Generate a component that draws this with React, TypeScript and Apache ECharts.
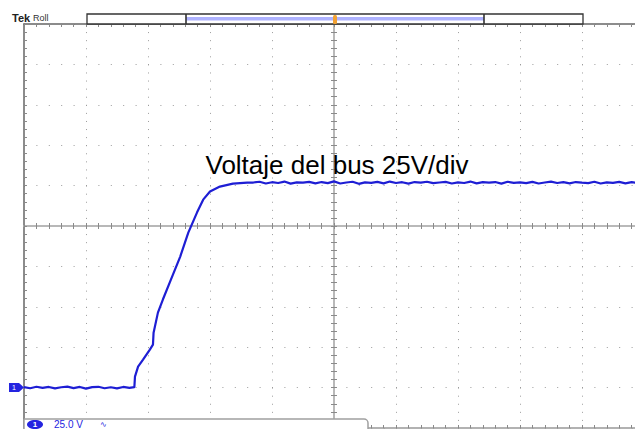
import React, { useEffect, useRef } from "react";
import * as echarts from "echarts";

// Horizontal position in graticule divisions (roll mode, 10 div across)
const baseTime = [0, 0.1, 0.2, 0.3, 0.4, 0.5, 0.6, 0.7, 0.8, 0.9, 1.0, 1.1, 1.2, 1.3, 1.4, 1.5, 1.6, 1.7, 1.78];
const baseVolt = [0.3, -0.4, 0.5, -0.2, 0.4, -0.5, 0.2, 0.6, -0.3, 0.4, -0.6, 0.3, 0.5, -0.4, 0.2, -0.5, 0.4, -0.2, 0.3];

const riseTime = [1.79, 1.84, 1.92, 2.03, 2.08, 2.09, 2.16, 2.24, 2.35, 2.52, 2.65, 2.79, 2.89, 3.0, 3.16, 3.37, 3.6];
const riseVolt = [6.8, 13.0, 17.3, 23.5, 26.6, 34.0, 46.4, 54.5, 65.0, 81.1, 95.9, 108.3, 116.3, 121.3, 124.4, 126.2, 126.9];

const plateauTime = [
  3.7, 3.8, 3.9, 4.0, 4.1, 4.2, 4.3, 4.4, 4.5, 4.6,
  4.7, 4.8, 4.9, 5.0, 5.1, 5.2, 5.3, 5.4, 5.5, 5.6,
  5.7, 5.8, 5.9, 6.0, 6.1, 6.2, 6.3, 6.4, 6.5, 6.6,
  6.7, 6.8, 6.9, 7.0, 7.1, 7.2, 7.3, 7.4, 7.5, 7.6,
  7.7, 7.8, 7.9, 8.0, 8.1, 8.2, 8.3, 8.4, 8.5, 8.6,
  8.7, 8.8, 8.9, 9.0, 9.1, 9.2, 9.3, 9.4, 9.5, 9.6,
  9.7, 9.8, 9.9, 10.0,
];
const plateauVolt = [
  126.9, 127.4, 126.3, 127.1, 126.6, 127.5, 126.2, 127.0, 126.8, 127.3,
  126.4, 127.2, 126.5, 127.6, 126.3, 126.9, 127.4, 126.1, 127.0, 126.7,
  127.3, 126.4, 127.5, 126.6, 127.1, 126.2, 127.2, 126.8, 127.4, 126.5,
  126.9, 127.3, 126.3, 127.0, 126.6, 127.5, 126.4, 127.1, 126.8, 127.2,
  126.2, 127.4, 126.7, 127.0, 126.5, 127.3, 126.3, 126.9, 127.5, 126.6,
  127.1, 126.4, 127.2, 126.8, 126.5, 127.4, 126.3, 127.0, 126.7, 127.3,
  126.4, 127.1, 126.6, 127.0,
];

const TITLE = "Voltaje del bus 25V/div";
const SCALE_LABEL = "25.0 V";
const CHANNEL = "1";

const FONT = "'Liberation Sans', Arial, sans-serif";
const TRACE = "#1e1ed4";
const CH_BLUE = "#2424e0";

export default function App() {
  const ref = useRef<HTMLDivElement>(null);

  useEffect(() => {
    if (!ref.current) return;
    const chart = echarts.init(ref.current, undefined, { renderer: "svg" });

    const times = [...baseTime, ...riseTime, ...plateauTime];
    const volts = [...baseVolt, ...riseVolt, ...plateauVolt];
    const data = times.map((t, i) => [t, volts[i]]);

    const tickStyle = { color: "#8a8a8a", width: 1 };
    const centerAxisX = (inside: boolean) => ({
      type: "value",
      position: "bottom",
      min: -5,
      max: 5,
      interval: 1,
      axisLine: { show: true, onZero: true, onZeroAxisIndex: 1, lineStyle: { color: "#b4b4b4", width: 1.5 } },
      axisTick: { show: true, inside, length: 3, lineStyle: tickStyle },
      minorTick: { show: true, splitNumber: 5, length: 3, lineStyle: tickStyle },
      axisLabel: { show: false },
      splitLine: { show: false },
    });
    const centerAxisY = (inside: boolean) => ({
      type: "value",
      position: "left",
      min: -5,
      max: 5,
      interval: 1,
      axisLine: { show: true, onZero: true, onZeroAxisIndex: 1, lineStyle: { color: "#b4b4b4", width: 1.5 } },
      axisTick: { show: true, inside, length: 3, lineStyle: tickStyle },
      minorTick: { show: true, splitNumber: 5, length: 3, lineStyle: tickStyle },
      axisLabel: { show: false },
      splitLine: { show: false },
    });

    const option: any = {
      animation: false,
      backgroundColor: "#ffffff",
      grid: { left: 24, top: 24, width: 620, height: 404, show: false },
      xAxis: [
        {
          type: "value",
          position: "top",
          min: 0,
          max: 10,
          interval: 1,
          axisLine: { show: true, onZero: false, lineStyle: { color: "#666", width: 1.5 } },
          axisTick: { show: true, inside: true, length: 3, lineStyle: tickStyle },
          minorTick: { show: true, splitNumber: 5, length: 3, lineStyle: tickStyle },
          axisLabel: { show: false },
          splitLine: { show: true, lineStyle: { color: "#9c9c9c", width: 1, type: [1, 7.08] } },
        },
        centerAxisX(false),
        centerAxisX(true),
        {
          type: "value",
          position: "bottom",
          min: 0,
          max: 10,
          interval: 1,
          axisLine: { show: true, onZero: false, lineStyle: { color: "#999", width: 1.5 } },
          axisTick: { show: true, inside: true, length: 3, lineStyle: tickStyle },
          minorTick: { show: true, splitNumber: 5, length: 3, lineStyle: tickStyle },
          axisLabel: { show: false },
          splitLine: { show: false },
        },
      ],
      yAxis: [
        {
          type: "value",
          position: "left",
          min: -25,
          max: 225,
          interval: 25,
          axisLine: { show: true, onZero: false, lineStyle: { color: "#666", width: 1.5 } },
          axisTick: { show: true, inside: true, length: 3, lineStyle: tickStyle },
          minorTick: { show: true, splitNumber: 5, length: 3, lineStyle: tickStyle },
          axisLabel: { show: false },
          splitLine: { show: true, lineStyle: { color: "#9c9c9c", width: 1, type: [1, 11.4] } },
        },
        centerAxisY(false),
        centerAxisY(true),
      ],
      series: [
        {
          type: "line",
          xAxisIndex: 0,
          yAxisIndex: 0,
          data,
          showSymbol: false,
          symbol: "none",
          lineStyle: { color: TRACE, width: 2.2 },
          z: 10,
        },
      ],
    };

    chart.setOption(option);

    const ground = chart.convertToPixel({ xAxisIndex: 0, yAxisIndex: 0 }, [0, 0]) as number[];
    const gy = ground[1];

    chart.setOption({
      graphic: [
        // Tek Roll header
        { type: "text", z: 100, x: 12, y: 18, style: { text: "Tek", fontFamily: FONT, fontSize: 11, fontWeight: "bold", fill: "#222", verticalAlign: "middle" } },
        { type: "text", z: 100, x: 33, y: 18, style: { text: "Roll", fontFamily: FONT, fontSize: 9, fill: "#333", verticalAlign: "middle" } },
        // trigger / record bar
        { type: "rect", z: 100, shape: { x: 87, y: 14, width: 496, height: 10 }, style: { fill: "#fff", stroke: "#333", lineWidth: 1.3 } },
        { type: "rect", z: 101, shape: { x: 186, y: 17, width: 298, height: 3.5 }, style: { fill: "#aeb2ff" } },
        { type: "line", z: 102, shape: { x1: 186, y1: 14, x2: 186, y2: 24 }, style: { stroke: "#333", lineWidth: 1.6 } },
        { type: "line", z: 102, shape: { x1: 484, y1: 14, x2: 484, y2: 24 }, style: { stroke: "#333", lineWidth: 1.6 } },
        { type: "rect", z: 103, shape: { x: 333, y: 15, width: 4, height: 9, r: 1.5 }, style: { fill: "#f2a233" } },
        // title
        { type: "text", z: 100, x: 337, y: 165, style: { text: TITLE, fontFamily: FONT, fontSize: 26, fill: "#000", align: "center", verticalAlign: "middle" } },
        // ground marker
        { type: "polygon", z: 100, shape: { points: [[9, gy - 4.5], [19, gy - 4.5], [24, gy], [19, gy + 4.5], [9, gy + 4.5]] }, style: { fill: CH_BLUE } },
        { type: "text", z: 101, x: 14, y: gy, style: { text: CHANNEL, fontFamily: FONT, fontSize: 7, fill: "#fff", align: "center", verticalAlign: "middle" } },
        // status box
        { type: "rect", z: 100, shape: { x: 24, y: 419, width: 344, height: 20, r: [0, 4, 0, 0] }, style: { fill: "#fff", stroke: "#a0a0a0", lineWidth: 1.5 } },
        { type: "ellipse", z: 101, shape: { cx: 35, cy: 424.5, rx: 8, ry: 4.5 }, style: { fill: CH_BLUE } },
        { type: "text", z: 102, x: 35, y: 424.5, style: { text: CHANNEL, fontFamily: FONT, fontSize: 8, fontWeight: "bold", fill: "#fff", align: "center", verticalAlign: "middle" } },
        { type: "text", z: 101, x: 54, y: 424.5, style: { text: SCALE_LABEL, fontFamily: FONT, fontSize: 10, fill: CH_BLUE, verticalAlign: "middle" } },
        { type: "text", z: 101, x: 100, y: 424.5, style: { text: "∿", fontFamily: FONT, fontSize: 8, fill: CH_BLUE, verticalAlign: "middle" } },
      ],
    });

    return () => chart.dispose();
  }, []);

  return (
    <div style={{ position: "fixed", left: 0, top: 0, width: 635, height: 429, overflow: "hidden", background: "#fff" }}>
      <div ref={ref} style={{ width: 660, height: 429 }} />
    </div>
  );
}
